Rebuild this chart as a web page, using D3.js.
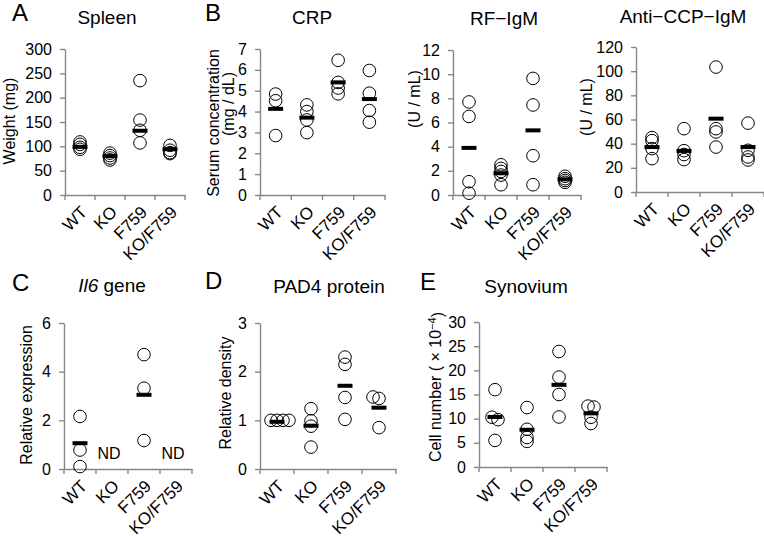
<!DOCTYPE html>
<html><head><meta charset="utf-8">
<script src="https://cdn.jsdelivr.net/npm/d3@7"></script>
<style>
body{margin:0;background:#fff}
svg{display:block}
text{font-family:"Liberation Sans",Arial,Helvetica,sans-serif;fill:#000}
</style>
</head><body>
<svg id="chart" width="764" height="537"></svg>
<script>
// ---------------- DATA ----------------
const groups = ["WT", "KO", "F759", "KO/F759"];

const spleenValues = [[109, 104, 98, 94], [86, 81, 76, 72], [235, 154, 133, 107], [102, 92, 87, 85]];
const spleenMeans = [99, 80, 132, 94];
const spleenTicks = [0, 50, 100, 150, 200, 250, 300];

const crpValues = [[4.84, 4.52, 2.85], [4.32, 4.0, 3.6, 2.99], [6.46, 5.4, 5.13, 4.85], [5.97, 4.88, 4.05, 3.49]];
const crpMeans = [4.13, 3.71, 5.4, 4.6];
const crpTicks = [0, 1, 2, 3, 4, 5, 6, 7];

const rfValues = [[7.7, 6.5, 1.1, 0.15], [2.5, 2.2, 1.95, 1.65, 0.85], [9.65, 7.45, 3.25, 0.85], [1.55, 1.35, 1.2, 1.05]];
const rfMeans = [3.9, 1.8, 5.35, 1.3];
const rfTicks = [0, 2, 4, 6, 8, 10, 12];

const ccpValues = [[45, 42.5, 35.9, 27.6], [52.4, 34.2, 31, 26.8], [103.4, 52.4, 49.7, 37.2], [57, 34.5, 29, 26.5]];
const ccpMeans = [37.2, 34, 60.7, 37.2];
const ccpTicks = [0, 20, 40, 60, 80, 100, 120];

const il6Values = [[2.16, 0.78, 0.1], [], [4.7, 3.32, 1.17], []];
const il6Means = [1.06, null, 3.05, null];
const il6Ticks = [0, 2, 4, 6];
const il6Missing = ["KO", "KO/F759"];

const pad4Values = [[1.0, 1.0, 1.0, 1.0], [1.24, 0.99, 0.88, 0.45], [2.3, 2.15, 1.47, 1.02], [1.48, 1.45, 0.85]];
const pad4Means = [0.97, 0.89, 1.71, 1.26];
const pad4Ticks = [0, 1, 2, 3];

const synValues = [[16.0, 10.3, 9.8, 5.5], [12.3, 7.8, 6.1, 5.3], [23.9, 18.6, 15.0, 10.35], [12.6, 12.4, 10.3, 9.0]];
const synMeans = [10.35, 7.7, 17.0, 11.1];
const synTicks = [0, 5, 10, 15, 20, 25, 30];

// ---------------- LAYOUT ----------------
const AXIS = "#878787";
const panels = [
  {letter: "A", lx: 12, ly: 21, title: ["Spleen"], tx: 107, ty: 24,
   values: spleenValues, means: spleenMeans, ticks: spleenTicks,
   x0: 65, x1: 185, top: 49, bottom: 195,
   ylab: [{t: "Weight (mg)", x: 9, y: 121}]},
  {letter: "B", lx: 205, ly: 21, title: ["CRP"], tx: 312, ty: 24,
   values: crpValues, means: crpMeans, ticks: crpTicks,
   x0: 260, x1: 385, top: 49, bottom: 195,
   ylab: [{t: "Serum concentration", x: 213, y: 123}, {t: "(mg / dL)", x: 228, y: 104}]},
  {letter: null, title: ["RF\u2212IgM"], tx: 504, ty: 25,
   values: rfValues, means: rfMeans, ticks: rfTicks,
   x0: 453, x1: 581, top: 50, bottom: 195,
   ylab: [{t: "(U / mL)", x: 414, y: 99}]},
  {letter: null, title: ["Anti\u2212CCP\u2212IgM"], tx: 683, ty: 23,
   values: ccpValues, means: ccpMeans, ticks: ccpTicks,
   x0: 636, x1: 764, top: 47, bottom: 192,
   ylab: [{t: "(U / mL)", x: 586, y: 107}]},
  {letter: "C", lx: 12, ly: 291, title: ["Il6", " gene"], italicFirst: true, tx: 112, ty: 292,
   values: il6Values, means: il6Means, ticks: il6Ticks, missing: il6Missing,
   x0: 64, x1: 192, top: 323, bottom: 469,
   ylab: [{t: "Relative expression", x: 26, y: 395}]},
  {letter: "D", lx: 205, ly: 289, title: ["PAD4 protein"], tx: 329, ty: 293,
   values: pad4Values, means: pad4Means, ticks: pad4Ticks,
   x0: 260, x1: 396, top: 323, bottom: 469, dodge: {thr: 0.05, start: -6, step: 6},
   ylab: [{t: "Relative density", x: 225, y: 393}]},
  {letter: "E", lx: 420, ly: 290, title: ["Synovium"], tx: 526, ty: 293,
   values: synValues, means: synMeans, ticks: synTicks,
   x0: 479, x1: 607, top: 322, bottom: 467, dodge: {thr: 0.6, start: -3, step: 6},
   ylab: [{t: "Cell number ( \u00d7 10", sup: "\u22124", end: ")", x: 435, y: 387}]}
];

const svg = d3.select("#chart");

function dodgeOffsets(vals, cfg) {
  const offs = vals.map(() => 0);
  if (!cfg || !vals.length) return offs;
  const idx = vals.map((v, i) => i).sort((a, b) => vals[b] - vals[a]);
  let cluster = [idx[0]];
  const flush = () => {
    if (cluster.length > 1) cluster.forEach((k, j) => offs[k] = cfg.start + cfg.step * j);
  };
  for (let i = 1; i < idx.length; i++) {
    if (Math.abs(vals[idx[i]] - vals[cluster[cluster.length - 1]]) < cfg.thr) cluster.push(idx[i]);
    else { flush(); cluster = [idx[i]]; }
  }
  flush();
  return offs;
}

panels.forEach(p => {
  const g = svg.append("g");
  const y = d3.scaleLinear().domain([0, d3.max(p.ticks)]).range([p.bottom, p.top]);
  const x = d3.scaleBand().domain(groups).range([p.x0, p.x1]);
  const bw = x.bandwidth();

  if (p.letter) g.append("text").attr("x", p.lx).attr("y", p.ly)
    .style("font-size", "24px").text(p.letter);

  const tt = g.append("text").attr("x", p.tx).attr("y", p.ty).attr("text-anchor", "middle")
    .style("font-size", "19px");
  p.title.forEach((s, i) => {
    const ts = tt.append("tspan").text(s);
    if (i === 0 && p.italicFirst) ts.style("font-style", "italic");
  });

  const ya = g.append("g").attr("transform", `translate(${p.x0},0)`)
    .call(d3.axisLeft(y).tickValues(p.ticks).tickFormat(d3.format("~g"))
      .tickSize(5).tickPadding(8).tickSizeOuter(0));
  ya.select(".domain").attr("stroke", AXIS).attr("stroke-width", 1.4);
  ya.selectAll(".tick line").attr("stroke", AXIS).attr("stroke-width", 1.4);
  ya.selectAll(".tick text").style("font-size", "16px").attr("fill", "#000")
    .style("font-family", '"Liberation Sans",Arial,sans-serif');

  const xa = g.append("g").attr("transform", `translate(0,${p.bottom})`)
    .call(d3.axisBottom(x).tickSize(0).tickFormat(""));
  xa.select(".domain").attr("stroke", AXIS).attr("stroke-width", 1.4);
  const bounds = groups.map(d => x(d)).concat([p.x1]);
  g.selectAll(null).data(bounds).enter().append("line")
    .attr("x1", d => d).attr("x2", d => d)
    .attr("y1", p.bottom).attr("y2", p.bottom + 5)
    .attr("stroke", AXIS).attr("stroke-width", 1.4);
  g.selectAll(null).data(groups).enter().append("text")
    .attr("transform", d => `translate(${x(d) + bw / 2 + 4},${p.bottom + 14}) rotate(-45)`)
    .attr("text-anchor", "end").attr("dy", "0.35em")
    .style("font-size", "17px").text(d => d);

  p.ylab.forEach(l => {
    const t = g.append("text").attr("transform", `translate(${l.x},${l.y}) rotate(-90)`)
      .attr("text-anchor", "middle").attr("dy", "0.35em")
      .style("font-size", l.sup ? "16px" : "16px");
    t.append("tspan").text(l.t);
    if (l.sup) {
      t.append("tspan").attr("dy", "-0.45em").style("font-size", "11px").text(l.sup);
      t.append("tspan").attr("dy", "0.45em").text(l.end);
    }
  });

  groups.forEach((grp, gi) => {
    const vals = p.values[gi];
    const offs = dodgeOffsets(vals, p.dodge);
    const cx = x(grp) + bw / 2;
    g.selectAll(null).data(vals).enter().append("circle")
      .attr("cx", (d, i) => cx + offs[i]).attr("cy", d => y(d)).attr("r", 6.3)
      .attr("fill", "none").attr("stroke", "#000").attr("stroke-width", 1);
    const m = p.means[gi];
    if (m != null) {
      g.append("rect").attr("x", cx - 7.5).attr("y", y(m) - 2).attr("width", 15).attr("height", 4)
        .attr("fill", "#000");
    }
  });

  if (p.missing) {
    g.selectAll(null).data(p.missing).enter().append("text")
      .attr("x", d => x(d) + bw / 2 - 3).attr("y", p.bottom - 16).attr("dy", "0.35em")
      .attr("text-anchor", "middle").style("font-size", "16px").text("ND");
  }
});
</script>
</body></html>
